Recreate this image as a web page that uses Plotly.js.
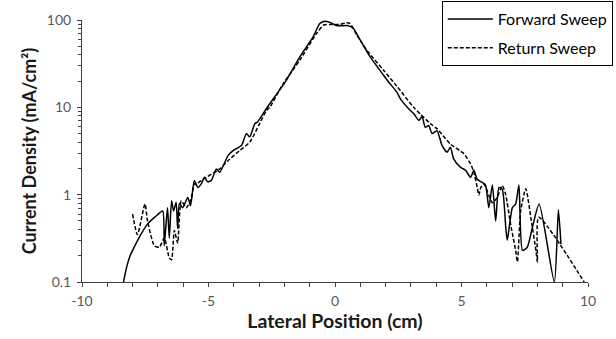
<!DOCTYPE html>
<html>
<head>
<meta charset="utf-8">
<script src="https://cdn.plot.ly/plotly-3.0.1.min.js"></script>
<style>html,body{margin:0;padding:0;background:#fff;}#chart{width:616px;height:339px;}</style>
</head>
<body>
<div id="chart"></div>
<script>
// Forward sweep (solid)
const forwardX = [-8.36,-8.23,-8.1,-7.94,-7.7,-7.41,-7.1,-6.81,-6.75,-6.62,-6.55,-6.46,-6.38,-6.28,-6.22,-6.15,-6.02,-5.82,-5.71,-5.56,-5.42,-5.28,-5.16,-5.04,-4.89,-4.69,-4.56,-4.23,-4.03,-3.70,-3.50,-3.37,-3.17,-3.06,-2.71,-2.58,-2.05,-1.92,-1.39,-0.86,-0.60,-0.40,-0.20,0.07,0.53,0.73,1.0,1.39,1.92,2.12,2.44,2.58,2.98,3.11,3.31,3.44,3.57,3.70,3.84,4.03,4.23,4.43,4.56,4.69,4.96,5.16,5.36,5.49,5.62,5.82,5.95,6.08,6.22,6.35,6.48,6.61,6.75,6.81,7.01,7.14,7.27,7.41,7.60,7.80,8.07,8.67,8.83,8.93];
const forwardY = [0.1,0.15,0.2,0.25,0.34,0.46,0.56,0.65,0.26,0.71,0.32,0.85,0.65,0.82,0.41,0.79,0.71,0.93,0.75,1.45,1.21,1.34,1.58,1.41,1.45,1.97,1.8,2.8,3.2,3.66,5.0,4.6,6.5,6.8,9.7,11,18,20.5,37.8,64.6,91,97,94,86,86,80,58.7,37.8,23.3,19.5,15,12.6,9.2,8.5,7.1,7.8,5.9,6.2,5.0,5.4,3.66,3.06,3.5,2.57,2.06,1.9,1.58,1.9,1.5,1.38,1.29,0.71,1.29,0.50,1.21,1.15,0.42,0.30,0.71,0.78,1.29,0.23,0.25,0.42,0.78,0.1,0.67,0.27];

// Return sweep (dashed)
const returnX = [-8.0,-7.81,-7.51,-7.41,-7.14,-6.94,-6.75,-6.55,-6.46,-6.35,-6.22,-6.08,-5.88,-5.69,-5.56,-5.49,-5.29,-5.09,-4.56,-4.23,-3.77,-3.37,-2.98,-2.71,-2.58,-2.05,-1.39,-0.73,-0.46,-0.2,0.2,0.46,0.6,0.86,1.26,1.92,2.44,3.11,3.77,4.03,4.56,5.09,5.36,5.49,5.62,5.69,5.76,5.89,6.22,6.41,6.61,6.74,6.94,7.14,7.21,7.34,7.54,7.74,7.94,8.0,8.05,9.85];
const returnY = [0.60,0.35,0.78,0.50,0.26,0.25,0.32,0.19,0.18,0.39,0.28,0.85,0.71,0.89,1.33,1.32,1.45,1.58,1.97,2.45,3.2,4.0,6.5,9.2,10,18.6,34.8,70,87,89,89,93,91,67.5,45,26.6,17.5,10,6.5,5.7,3.8,2.95,2.25,1.8,1.21,0.99,1.2,1.32,0.81,0.93,1.27,1.02,0.46,0.23,0.17,0.65,1.17,0.55,0.23,0.17,0.55,0.1];

const xTickVals = [-10,-5,0,5,10];
const xTickText = ['-10','-5','0','5','10'];
const seriesNames = ['Forward Sweep','Return Sweep'];

const fontFam = 'Lato, "Open Sans", sans-serif';
const axisColor = '#404040';
const tickFont = {family:fontFam, size:14, color:'#595959'};

const traces = [
  {x:forwardX, y:forwardY, name:seriesNames[0], legendgroup:'f', mode:'lines',
   line:{color:'#000', width:1.5, shape:'spline', smoothing:0.6}},
  {x:returnX, y:returnY, name:seriesNames[1], legendgroup:'r', mode:'lines',
   line:{color:'#000', width:1.5, dash:'4px,2px', shape:'spline', smoothing:0.6}}
];

const layout = {
  width:616, height:339,
  margin:{l:82, r:28, t:20, b:57, autoexpand:false},
  paper_bgcolor:'#fff', plot_bgcolor:'#fff',
  showlegend:true,
  legend:{x:0.711, y:1.0725, xanchor:'left', yanchor:'top',
    bordercolor:'#000', borderwidth:1, bgcolor:'#fff',
    font:{family:fontFam, size:16, color:'#000'},
    itemwidth:45, traceorder:'grouped', tracegroupgap:5},
  xaxis:{range:[-10,10], tickvals:xTickVals, ticktext:xTickText,
    showgrid:false, zeroline:false, showline:true, linecolor:axisColor, linewidth:1,
    ticks:'outside', ticklen:4, tickcolor:axisColor, tickfont:tickFont, ticklabelstandoff:2,
    minor:{dtick:1, ticks:'outside', ticklen:4, tickcolor:axisColor, showgrid:false},
    title:{text:'Lateral Position (cm)', font:{family:fontFam, size:19.5, color:'#1a1a1a', weight:700}, standoff:4}},
  xaxis2:{range:[-10,10], overlaying:'x', anchor:'y', tickvals:xTickVals,
    showticklabels:false, showgrid:false, zeroline:false, showline:false,
    ticks:'inside', ticklen:4, tickcolor:axisColor},
  yaxis:{type:'log', range:[-1,2], dtick:1,
    showgrid:false, zeroline:false, showline:true, linecolor:axisColor, linewidth:1,
    ticks:'outside', ticklen:4, tickcolor:axisColor, tickfont:tickFont, ticklabelstandoff:3,
    minor:{dtick:'D1', ticks:'outside', ticklen:3, tickcolor:axisColor, showgrid:false},
    title:{text:'Current Density (mA/cm²)', font:{family:fontFam, size:18, color:'#1a1a1a', weight:700}, standoff:5}},
  yaxis2:{type:'log', range:[-1,2], dtick:1, overlaying:'y', anchor:'x',
    showticklabels:false, showgrid:false, zeroline:false, showline:false,
    ticks:'inside', ticklen:4, tickcolor:axisColor}
};

Plotly.newPlot('chart', traces, layout, {staticPlot:true, displayModeBar:false});
</script>
</body>
</html>
